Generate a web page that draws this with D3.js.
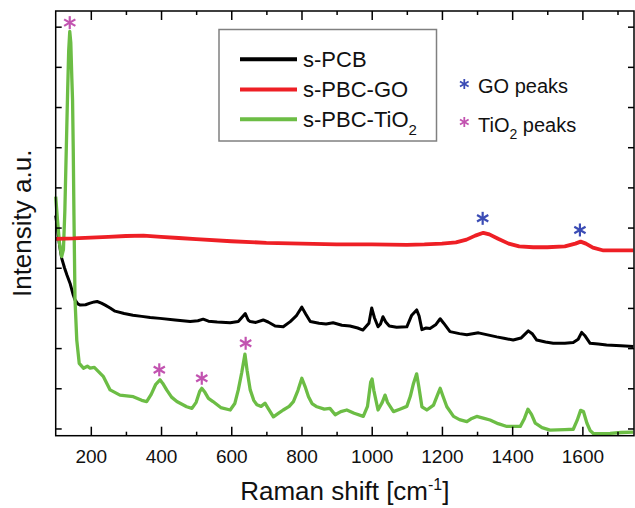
<!DOCTYPE html>
<html><head><meta charset="utf-8">
<script src="https://cdn.jsdelivr.net/npm/d3@7"></script>
<style>
html,body{margin:0;padding:0;background:#fff;}
text{font-family:"Liberation Sans",Arial,sans-serif;}
</style></head>
<body><svg id="c" width="635" height="508"></svg>
<script>
// ---- data (Raman shift in cm-1, intensity in arbitrary units) ----
const pcbX = [100,104,108,113,117,125,132,141,150,155,163,170,185,198,210,218,230,241,255,269,295,320,345,369,397,440,483,505,520,535,560,597,620,632,640,648,654,670,691,705,725,748,768,785,801,812,825,850,870,890,915,938,960,975,992,1000,1008,1018,1025,1032,1040,1050,1071,1100,1114,1128,1135,1143,1155,1166,1182,1195,1205,1223,1250,1271,1304,1330,1356,1380,1403,1425,1446,1458,1470,1495,1517,1550,1574,1588,1598,1608,1622,1645,1669,1710,1745];
const pcbY = [5.30,5.05,4.75,4.45,4.24,4.00,3.82,3.61,3.32,3.20,3.10,3.07,3.08,3.12,3.15,3.16,3.12,3.07,3.00,2.92,2.86,2.82,2.79,2.76,2.74,2.70,2.66,2.68,2.72,2.67,2.65,2.63,2.66,2.78,2.86,2.70,2.66,2.64,2.70,2.65,2.55,2.53,2.66,2.80,3.02,2.85,2.66,2.62,2.60,2.63,2.57,2.55,2.50,2.45,2.62,3.00,2.75,2.53,2.60,2.78,2.65,2.55,2.52,2.53,2.82,2.95,2.80,2.46,2.50,2.49,2.58,2.73,2.62,2.41,2.36,2.33,2.38,2.33,2.28,2.24,2.20,2.25,2.43,2.35,2.20,2.15,2.12,2.12,2.14,2.22,2.39,2.30,2.12,2.10,2.08,2.06,2.04];

const goX = [100,150,200,250,300,350,400,450,500,600,700,800,900,1000,1100,1150,1200,1240,1270,1295,1318,1335,1360,1390,1420,1460,1500,1550,1580,1595,1610,1630,1660,1700,1745];
const goY = [4.72,4.73,4.75,4.77,4.79,4.80,4.77,4.74,4.71,4.66,4.62,4.60,4.58,4.58,4.57,4.58,4.60,4.63,4.70,4.80,4.87,4.83,4.72,4.60,4.53,4.51,4.51,4.53,4.60,4.65,4.60,4.50,4.43,4.43,4.43];

const tioX = [100,105,111,117,122,126,130,134,137,140,143,146,148,150,152,155,160,167,179,190,198,210,217,236,255,283,321,345,359,372,385,397,405,416,430,445,473,488,500,510,516,525,535,548,570,597,610,620,630,639,645,654,664,673,685,696,705,720,735,748,765,777,790,801,810,820,830,844,865,881,896,912,929,950,976,988,997,1001,1006,1018,1030,1038,1045,1062,1080,1100,1110,1119,1128,1134,1143,1157,1176,1188,1195,1203,1214,1233,1250,1271,1285,1299,1320,1337,1360,1385,1423,1435,1445,1455,1466,1485,1508,1550,1574,1585,1595,1603,1613,1622,1632,1679,1710,1745];
const tioY = [5.77,5.20,4.60,4.28,4.45,5.40,6.90,8.40,9.40,9.88,9.60,8.70,8.18,6.93,5.30,3.20,2.20,1.62,1.50,1.55,1.50,1.52,1.46,1.29,0.96,0.83,0.79,0.70,0.67,0.85,1.10,1.21,1.12,0.96,0.78,0.67,0.54,0.50,0.65,0.92,1.00,0.90,0.75,0.67,0.52,0.46,0.62,0.96,1.40,1.85,1.45,0.96,0.70,0.59,0.55,0.63,0.50,0.29,0.38,0.46,0.55,0.67,0.95,1.25,1.05,0.79,0.62,0.54,0.48,0.50,0.34,0.42,0.46,0.38,0.30,0.55,1.15,1.23,0.95,0.46,0.65,0.83,0.65,0.42,0.48,0.55,0.80,1.12,1.36,1.05,0.54,0.46,0.58,0.85,1.00,0.80,0.54,0.30,0.22,0.17,0.25,0.30,0.25,0.21,0.12,0.05,0.05,0.25,0.48,0.35,0.13,0.02,-0.04,-0.03,-0.02,0.20,0.45,0.42,0.13,-0.05,-0.13,-0.12,-0.10,-0.09];

const tioStarX = [140, 395, 516, 641];
const tioStarY = [10.10, 1.46, 1.25, 2.12];
const goStarX = [1316, 1593];
const goStarY = [5.23, 4.94];

const xMajor = [200,400,600,800,1000,1200,1400,1600];
const xMinor = [300,500,700,900,1100,1300,1500,1700];
const yTicks = [0,1,2,3,4,5,6,7,8,9,10];

const seriesNames = ["s-PCB","s-PBC-GO","s-PBC-TiO"];
const seriesColors = ["#000000","#ee1f25","#6cbd45"];
const magenta = "#c253b0", blue = "#3b4cb5";

// ---- layout ----
const L = 55.7, R = 634, T = 11, B = 435.7;
const svg = d3.select("#c");
svg.append("rect").attr("width",635).attr("height",508).attr("fill","#fff");

const x = d3.scaleLinear().domain([100,1747]).range([L,R]);
const y = d3.scaleLinear().domain([-0.18,10.39]).range([B,T]);

// curves
const line = d3.line().x(d=>x(d[0])).y(d=>y(d[1]));
const pcb = d3.zip(pcbX,pcbY), go = d3.zip(goX,goY), tio = d3.zip(tioX,tioY);
const g = svg.append("g");
[[pcb,seriesColors[0],3],[tio,seriesColors[2],3.3],[go,seriesColors[1],3.8]].forEach(([d,c,w])=>{
  g.append("path").datum(d).attr("d",line).attr("fill","none")
   .attr("stroke",c).attr("stroke-width",w).attr("stroke-linejoin","round");
});

// asterisk helper (6 spokes)
function star(sel, cx, cy, r, color, w){
  const a = [90, 30, -30];
  a.forEach(deg=>{
    const t = deg*Math.PI/180;
    sel.append("line")
      .attr("x1",cx - r*Math.cos(t)).attr("y1",cy - r*Math.sin(t))
      .attr("x2",cx + r*Math.cos(t)).attr("y2",cy + r*Math.sin(t))
      .attr("stroke",color).attr("stroke-width",w).attr("stroke-linecap","butt");
  });
}
const sg = svg.append("g");
tioStarX.forEach((v,i)=>star(sg, x(v), y(tioStarY[i]), 6.5, magenta, 2.2));
goStarX.forEach((v,i)=>star(sg, x(v), y(goStarY[i]), 6.5, blue, 2.2));

// axes (frame with inward ticks)
const frame = svg.append("g").attr("stroke","#000").attr("stroke-width",1.5);
frame.append("rect").attr("x",L).attr("y",T).attr("width",R-L).attr("height",B-T).attr("fill","none");
function styleAxis(sel){ sel.select(".domain").remove(); sel.selectAll("line").attr("stroke-width",1.5); return sel; }
const gBottom = svg.append("g").attr("transform",`translate(0,${B})`)
  .call(d3.axisBottom(x).tickValues(xMajor).tickFormat(d3.format("d")).tickSizeInner(-9).tickSizeOuter(0).tickPadding(14));
styleAxis(gBottom);
gBottom.selectAll("text").attr("font-size",19).attr("font-family","Liberation Sans, Arial, sans-serif").attr("fill","#111");
styleAxis(svg.append("g").attr("transform",`translate(0,${B})`).call(d3.axisBottom(x).tickValues(xMinor).tickSize(-4).tickFormat("")));
styleAxis(svg.append("g").attr("transform",`translate(0,${T})`).call(d3.axisTop(x).tickValues(xMajor).tickSize(-9).tickFormat("")));
styleAxis(svg.append("g").attr("transform",`translate(0,${T})`).call(d3.axisTop(x).tickValues(xMinor).tickSize(-4).tickFormat("")));
styleAxis(svg.append("g").attr("transform",`translate(${L},0)`).call(d3.axisLeft(y).tickValues(yTicks).tickSize(-6).tickFormat("")));
styleAxis(svg.append("g").attr("transform",`translate(${R},0)`).call(d3.axisRight(y).tickValues(yTicks).tickSize(-6).tickFormat("")));

// axis titles
const xt = svg.append("text").attr("x",(L+R)/2).attr("y",500).attr("text-anchor","middle")
  .attr("font-size",26).attr("fill","#111");
xt.append("tspan").text("Raman shift [cm");
xt.append("tspan").attr("dy",-10).attr("font-size",16).text("-1");
xt.append("tspan").attr("dy",10).text("]");
svg.append("text").attr("transform",`translate(31,${(T+B)/2}) rotate(-90)`).attr("text-anchor","middle")
  .attr("font-size",26).attr("fill","#111").text("Intensity a.u.");

// legend
const lg = svg.append("g");
lg.append("rect").attr("x",219).attr("y",29.5).attr("width",217.5).attr("height",111.5)
  .attr("fill","#fff").attr("stroke","#808080").attr("stroke-width",1.5);
const rowY = [59.3, 89.5, 119.3];
seriesNames.forEach((n,i)=>{
  lg.append("line").attr("x1",240).attr("x2",297).attr("y1",rowY[i]).attr("y2",rowY[i])
    .attr("stroke",seriesColors[i]).attr("stroke-width",4);
  const t = lg.append("text").attr("x",303).attr("y",rowY[i]+7.5).attr("font-size",22).attr("fill","#111");
  t.append("tspan").text(n);
  if(i===2) t.append("tspan").attr("dy",8).attr("font-size",15).text("2");
});

// peak key
star(svg, 464.3, 84, 5, blue, 1.8);
svg.append("text").attr("x",478).attr("y",93.3).attr("font-size",20).attr("fill","#111").text("GO peaks");
star(svg, 464.3, 122, 5, magenta, 1.8);
const tk = svg.append("text").attr("x",478).attr("y",131.7).attr("font-size",20).attr("fill","#111");
tk.append("tspan").text("TiO");
tk.append("tspan").attr("dy",7).attr("font-size",14).text("2");
tk.append("tspan").attr("dy",-7).text(" peaks");
</script></body></html>
